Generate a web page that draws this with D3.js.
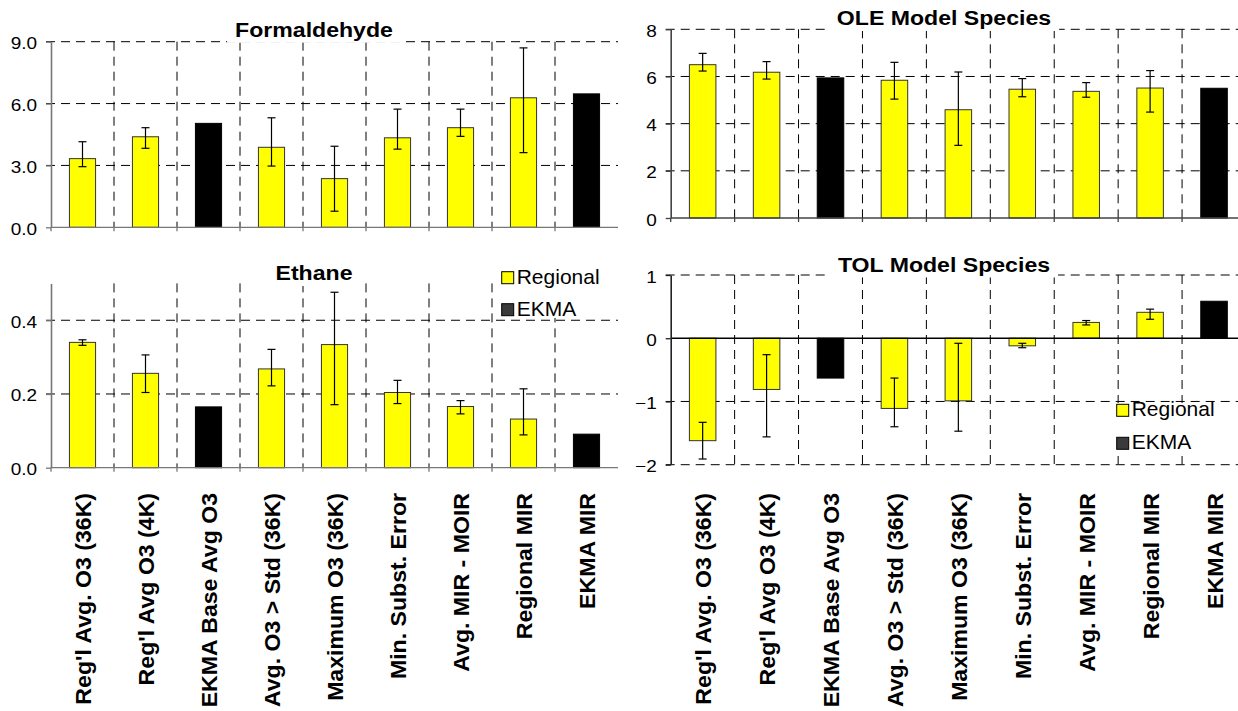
<!DOCTYPE html>
<html>
<head>
<meta charset="utf-8">
<script src="https://cdn.jsdelivr.net/npm/d3@7"></script>
<style>
  body { margin: 0; background: #fff; }
  text { font-family: Arial, 'Liberation Sans', sans-serif; fill: #000; }
</style>
</head>
<body>
<svg id="chart" width="1238" height="711"></svg>
<script>
// Categories shared by all four panels.
const categories = [
  "Reg'l Avg. O3 (36K)", "Reg'l Avg O3 (4K)", 'EKMA Base Avg O3',
  'Avg. O3 > Std (36K)', 'Maximum O3 (36K)', 'Min. Subst. Error',
  'Avg. MIR - MOIR', 'Regional MIR', 'EKMA MIR'
];
const methods = ['Regional', 'Regional', 'EKMA', 'Regional', 'Regional', 'Regional', 'Regional', 'Regional', 'EKMA'];

// Values with error ranges (null = no error bar).
const formaldehyde = [3.33, 4.39, 5.04, 3.88, 2.36, 4.34, 4.83, 6.28, 6.47];
const formaldehydeLo = [2.94, 3.83, null, 2.97, 0.78, 3.79, 4.41, 3.62, null];
const formaldehydeHi = [4.15, 4.83, null, 5.31, 3.93, 5.73, 5.73, 8.70, null];

const ethane = [0.340, 0.256, 0.165, 0.268, 0.334, 0.204, 0.166, 0.132, 0.091];
const ethaneLo = [0.332, 0.204, null, 0.222, 0.171, 0.174, 0.146, 0.089, null];
const ethaneHi = [0.347, 0.306, null, 0.321, 0.476, 0.237, 0.182, 0.214, null];

const ole = [6.50, 6.18, 5.94, 5.84, 4.59, 5.46, 5.37, 5.51, 5.50];
const oleLo = [6.23, 5.89, null, 5.04, 3.08, 5.14, 5.12, 4.49, null];
const oleHi = [6.98, 6.63, null, 6.60, 6.19, 5.91, 5.74, 6.25, null];

const tol = [-1.62, -0.81, -0.63, -1.11, -0.99, -0.12, 0.25, 0.41, 0.585];
const tolLo = [-1.91, -1.56, null, -1.40, -1.47, -0.15, 0.21, 0.30, null];
const tolHi = [-1.33, -0.26, null, -0.63, -0.08, -0.08, 0.28, 0.46, null];

const formaldehydeTicks = [0, 3, 6, 9];
const ethaneTicks = [0, 0.2, 0.4];
const oleTicks = [0, 2, 4, 6, 8];
const tolTicks = [-2, -1, 0, 1];

const colors = { Regional: '#ffff00', EKMA: '#000000' };
const legendColors = { Regional: '#ffff00', EKMA: '#3a3a3a' };

const svg = d3.select('#chart');

// text stretched horizontally like the source image
function stretchText (g, x, y, str, { size, sx = 1, bold = false, anchor = 'start', rotate = 0 }) {
  return g.append('text')
    .attr('transform', `translate(${x},${y})${rotate ? ` rotate(${rotate})` : ''} scale(${sx},1)`)
    .attr('text-anchor', anchor)
    .style('font-size', size + 'px')
    .style('font-weight', bold ? 'bold' : 'normal')
    .text(str);
}

const panels = [
  {
    title: 'Formaldehyde', values: formaldehyde, lo: formaldehydeLo, hi: formaldehydeHi,
    xr: [51, 618], yr: [227.3, 41.7], domain: [0, 9], ticks: formaldehydeTicks, fmt: '.1f',
    titleAt: [314, 36.7], axisColor: '#777', zeroColor: '#777'
  },
  {
    title: 'Ethane', values: ethane, lo: ethaneLo, hi: ethaneHi,
    xr: [51, 618], yr: [467.7, 283.4], domain: [0, 0.5], ticks: ethaneTicks, fmt: '.1f',
    titleAt: [314, 280], axisColor: '#777', zeroColor: '#777',
    legend: { box: [497, 262, 123, 56], at: [501.7, 271.7], step: 32 },
    labels: true
  },
  {
    title: 'OLE Model Species', values: ole, lo: oleLo, hi: oleHi,
    xr: [670.7, 1246], yr: [218, 29.3], domain: [0, 8], ticks: oleTicks, fmt: 'd',
    titleAt: [944, 25], axisColor: '#444', zeroColor: '#444'
  },
  {
    title: 'TOL Model Species', values: tol, lo: tolLo, hi: tolHi,
    xr: [670.7, 1246], yr: [464.7, 275], domain: [-2, 1], ticks: tolTicks, fmt: 'd',
    titleAt: [944, 271.5], axisColor: '#222', zeroColor: '#000',
    legend: { box: [1111, 403, 127, 53], at: [1116.7, 404.3], step: 33 },
    labels: true
  }
];

panels.forEach(p => {
  const g = svg.append('g');
  const x = d3.scaleBand().domain(categories).range(p.xr);
  const y = d3.scaleLinear().domain(p.domain).range(p.yr);
  const bw = x.bandwidth() * 0.415;
  const yTop = y(p.domain[1]);
  const yBot = y(p.domain[0]);

  // horizontal dashed grid
  g.selectAll('line.hgrid')
    .data(p.ticks.filter(t => t !== 0))
    .enter()
      .append('line')
      .attr('class', 'hgrid')
      .attr('x1', p.xr[0] - 5).attr('x2', p.xr[1])
      .attr('y1', d => y(d)).attr('y2', d => y(d))
      .attr('stroke', '#000').attr('stroke-width', 1)
      .attr('stroke-dasharray', '9,6');

  // vertical dashed grid at category boundaries
  g.selectAll('line.vgrid')
    .data(categories.slice(1))
    .enter()
      .append('line')
      .attr('class', 'vgrid')
      .attr('x1', d => x(d)).attr('x2', d => x(d))
      .attr('y1', yTop).attr('y2', yBot)
      .attr('stroke', '#000').attr('stroke-width', 1)
      .attr('stroke-dasharray', '9,6');

  // category tick marks below a bottom axis
  if (p.domain[0] === 0) {
    g.selectAll('line.ctick')
      .data(categories)
      .enter()
        .append('line')
        .attr('x1', d => x(d)).attr('x2', d => x(d))
        .attr('y1', yBot).attr('y2', yBot + 4)
        .attr('stroke', p.axisColor).attr('stroke-width', 1.3);
  }

  // title with white background
  const t = stretchText(g, p.titleAt[0], p.titleAt[1], p.title, { size: 21, sx: 1.1, bold: true, anchor: 'middle' });
  const tw = t.node().getComputedTextLength() * 1.1;
  g.insert('rect', 'text')
    .attr('x', p.titleAt[0] - tw / 2 - 8).attr('y', p.titleAt[1] - 18)
    .attr('width', tw + 16).attr('height', 24)
    .attr('fill', '#fff');

  // bars
  const data = categories.map((c, i) => ({ c, v: p.values[i], lo: p.lo[i], hi: p.hi[i], m: methods[i] }));
  g.selectAll('rect.bar')
    .data(data)
    .enter()
      .append('rect')
      .attr('class', 'bar')
      .attr('x', d => x(d.c) + (x.bandwidth() - bw) / 2)
      .attr('y', d => y(Math.max(0, d.v)))
      .attr('width', bw)
      .attr('height', d => Math.abs(y(d.v) - y(0)))
      .attr('fill', d => colors[d.m])
      .attr('stroke', d => d.m === 'EKMA' ? '#000' : '#333')
      .attr('stroke-width', 1);

  // error bars
  const eb = data.filter(d => d.lo !== null);
  const cx = d => x(d.c) + x.bandwidth() / 2;
  g.selectAll('line.err')
    .data(eb)
    .enter()
      .append('line')
      .attr('x1', cx).attr('x2', cx)
      .attr('y1', d => y(d.lo)).attr('y2', d => y(d.hi))
      .attr('stroke', '#000').attr('stroke-width', 1.2);
  ['lo', 'hi'].forEach(k => {
    g.selectAll('line.cap-' + k)
      .data(eb)
      .enter()
        .append('line')
        .attr('x1', d => cx(d) - 4).attr('x2', d => cx(d) + 4)
        .attr('y1', d => y(d[k])).attr('y2', d => y(d[k]))
        .attr('stroke', '#000').attr('stroke-width', 1.2);
  });

  // zero line
  g.append('line')
    .attr('x1', p.xr[0]).attr('x2', p.xr[1])
    .attr('y1', y(0)).attr('y2', y(0))
    .attr('stroke', p.zeroColor).attr('stroke-width', 1.3);

  // y axis
  const axis = g.append('g')
    .attr('transform', `translate(${p.xr[0]},0)`)
    .call(d3.axisLeft(y).tickValues(p.ticks).tickSize(5).tickSizeOuter(0).tickFormat(d3.format(p.fmt)));
  axis.select('.domain').attr('stroke', p.axisColor).attr('stroke-width', 1.6);
  axis.selectAll('.tick line').attr('stroke', p.axisColor).attr('stroke-width', 1.3);
  axis.selectAll('.tick text')
    .attr('x', null).attr('dy', null)
    .attr('transform', 'translate(-14,7) scale(1.15,1)')
    .attr('text-anchor', 'end')
    .style('font-family', "Arial, 'Liberation Sans', sans-serif")
    .style('font-size', '16.5px')
    .attr('fill', '#000');

  // legend
  if (p.legend) {
    const L = p.legend;
    g.append('rect')
      .attr('x', L.box[0]).attr('y', L.box[1])
      .attr('width', L.box[2]).attr('height', L.box[3])
      .attr('fill', '#fff');
    ['Regional', 'EKMA'].forEach((name, i) => {
      const ly = L.at[1] + i * L.step;
      g.append('rect')
        .attr('x', L.at[0]).attr('y', ly)
        .attr('width', 12).attr('height', 12)
        .attr('fill', legendColors[name]).attr('stroke', '#000').attr('stroke-width', 1);
      stretchText(g, L.at[0] + 15, ly + 12, name, { size: 20, sx: 1.05 });
    });
  }

  // category labels under the lower panels
  if (p.labels) {
    categories.forEach(c => {
      stretchText(svg, x(c) + x.bandwidth() / 2 + 8.5, 493, c, { size: 22, sx: 1.05, bold: true, anchor: 'end', rotate: -90 });
    });
  }
});
</script>
</body>
</html>
